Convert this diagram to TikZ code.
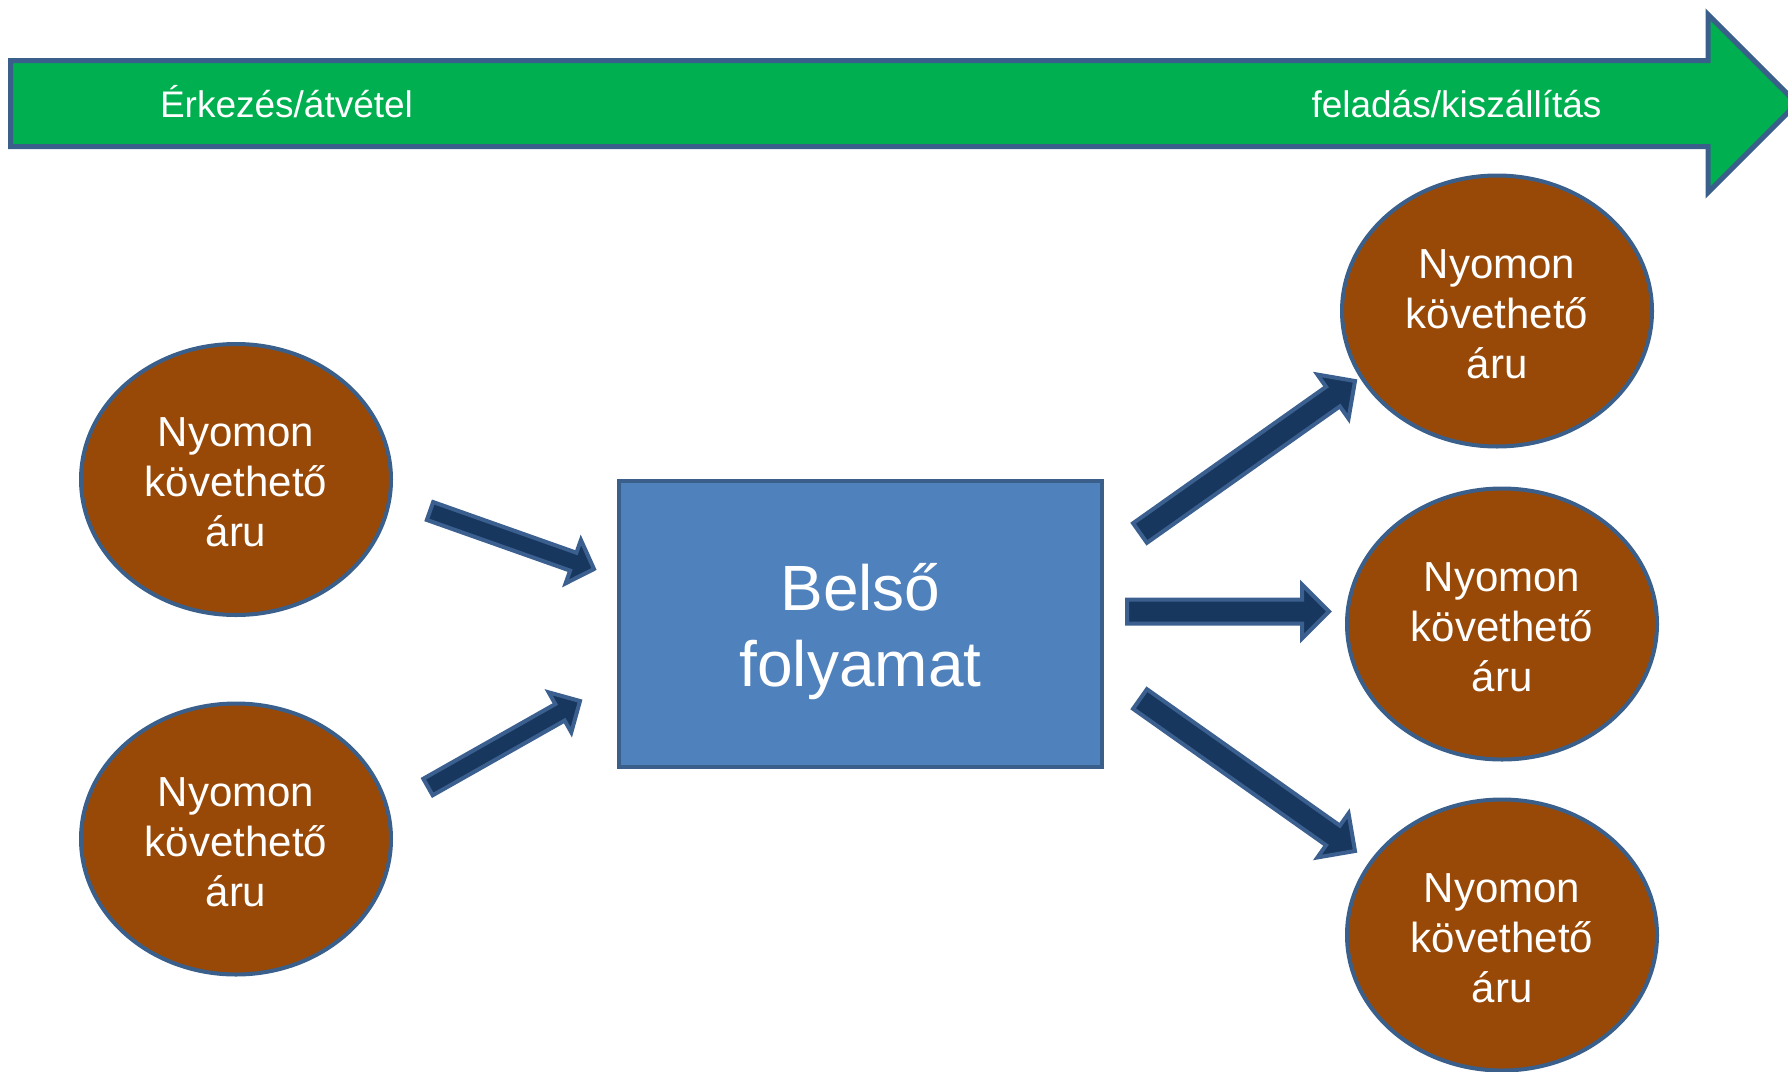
\documentclass[tikz,border=0pt]{standalone}
\usepackage{fontspec}
\setmainfont{Liberation Sans}
\usetikzlibrary{shapes.geometric,calc}

\definecolor{bandgreen}{HTML}{00B050}
\definecolor{edgeblue}{HTML}{3A5F8B}
\definecolor{goodsbrown}{HTML}{984807}
\definecolor{procblue}{HTML}{4F81BD}
\definecolor{arrowdark}{HTML}{17375E}
\definecolor{arrowedge}{HTML}{3B6090}

\tikzset{
  goods/.style={ellipse, draw=edgeblue, line width=4pt, fill=goodsbrown,
    minimum width=310pt, minimum height=271pt, inner sep=0pt},
  goodstext/.style={text=white, align=center, inner sep=0pt,
    font=\fontsize{42}{50}\selectfont},
  process/.style={rectangle, draw=edgeblue, line width=4pt, fill=procblue,
    minimum width=483pt, minimum height=286pt, inner sep=0pt},
  processtext/.style={text=white, align=center, inner sep=0pt,
    font=\fontsize{64}{76}\selectfont},
  bandlabel/.style={text=white, inner sep=0pt, anchor=base,
    font=\fontsize{37}{44}\selectfont},
  flowarrow/.style={fill=arrowdark, draw=arrowedge, line width=4pt, line join=miter},
}

% block arrow: #1 tail, #2 tip, #3 shaft half width, #4 head half width, #5 head length
\newcommand{\blockarrow}[5]{%
  \coordinate (ba-h) at ($(#2)!#5!(#1)$);
  \draw[flowarrow] ($(#1)!#3!90:(#2)$) -- ($(ba-h)!#3!90:(#2)$)
    -- ($(ba-h)!#4!90:(#2)$) -- (#2) -- ($(ba-h)!#4!-90:(#2)$)
    -- ($(ba-h)!#3!-90:(#2)$) -- ($(#1)!#3!-90:(#2)$) -- cycle;
}
% goods ellipse with its caption
\newcommand{\goods}[2]{%
  \node[goods] (#1) at (#2) {};
  \node[goodstext] (#1-text) at ([yshift=-3pt]#1.center) {Nyomon\\követhető\\áru};
}

\begin{document}
\begin{tikzpicture}[x=1pt, y=-1pt]
\useasboundingbox (0,0) rectangle (1788,1071);
\begin{scope}
\clip (0,0) rectangle (1788,1071);

% timeline band
\draw[fill=bandgreen, draw=edgeblue, line width=5pt, line join=miter]
  (10.5,60.5) -- (1708,60.5) -- (1708,14.5) -- (1797,103.5)
  -- (1708,192.5) -- (1708,146.5) -- (10.5,146.5) -- cycle;
\node[bandlabel] (arrive) at (286.5,117) {Érkezés/átvétel};
\node[bandlabel] (ship) at (1456.5,117) {feladás/kiszállítás};

% goods entering
\goods{g1}{236,479.5}
\goods{g2}{236,839}

% internal process
\node[process] (proc) at (860.5,624) {};
\node[processtext] (proc-text) at ([yshift=-8pt]proc.center) {Belső\\folyamat};

% goods leaving
\goods{g3}{1497,311}
\goods{g4}{1502,624}
\goods{g5}{1502,935}

% arrow end points
\coordinate (in1s) at (430,511);   \coordinate (in1e) at (594,569);
\coordinate (in2s) at (428,787);   \coordinate (in2e) at (580,701);
\coordinate (out1s) at (1140,533); \coordinate (out1e) at (1355,381);
\coordinate (out2s) at (1127,611.5); \coordinate (out2e) at (1329,611.5);
\coordinate (out3s) at (1140,699); \coordinate (out3e) at (1355,851);

\blockarrow{in1s}{in1e}{9.5pt}{23pt}{22pt}
\blockarrow{in2s}{in2e}{9.5pt}{23pt}{23pt}
\blockarrow{out1s}{out1e}{12pt}{27pt}{27pt}
\blockarrow{out2s}{out2e}{12pt}{27pt}{27pt}
\blockarrow{out3s}{out3e}{12pt}{27pt}{27pt}
\end{scope}
\end{tikzpicture}
\end{document}
